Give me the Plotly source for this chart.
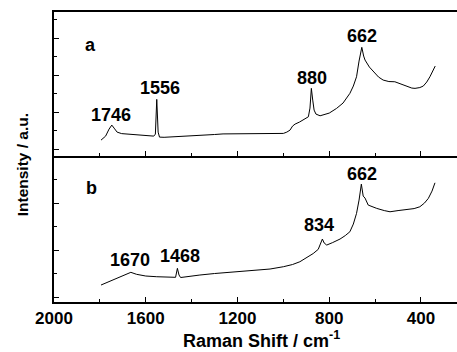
import plotly.graph_objects as go

# Panel a spectrum (Raman shift cm^-1, intensity a.u.)
wn_a = [1795, 1775, 1760, 1748, 1738, 1725, 1705, 1680, 1650, 1620, 1590, 1565,
        1558, 1552, 1546, 1540, 1520, 1480, 1440, 1407, 1350, 1300, 1263, 1200,
        1146, 1058, 1000, 985, 971, 960, 949, 930, 913, 891, 884, 878, 872, 866,
        858, 840, 800, 768, 740, 710, 695, 681, 670, 658, 650, 644, 625, 608,
        585, 565, 540, 514, 490, 463, 440, 426, 405, 390, 375, 361, 348, 338]
int_a = [16, 20, 27, 31, 28, 24, 22.5, 22, 21.5, 21, 20.5, 20,
         22, 56.7, 24, 19, 18.8, 19.2, 19.6, 20, 20.8, 21.6, 22.2, 22.3,
         22, 22, 22.7, 24, 26, 30, 32, 34, 36, 39.3, 48, 67.7, 56, 46,
         42, 40.3, 43, 47.7, 53, 62.7, 70, 79.3, 95, 108.7, 100, 96, 89, 84.3,
         79, 76, 74.5, 74.3, 72, 70, 68, 67.7, 68.5, 70, 74, 79.3, 85, 90]

# Panel b spectrum
wn_b = [1795, 1760, 1720, 1690, 1665, 1640, 1600, 1552, 1500, 1470, 1462, 1455,
        1448, 1420, 1364, 1300, 1262, 1200, 1146, 1058, 1000, 960, 928, 891,
        870, 848, 838, 830, 822, 811, 785, 753, 730, 710, 695, 681, 670, 660,
        652, 644, 630, 610, 593, 560, 535, 500, 463, 430, 405, 385, 368, 352, 339]
int_b = [17, 20.5, 24.5, 27.5, 29.7, 27.7, 26, 25.3, 24.7, 24.7, 33.7, 27,
         24.5, 25.5, 27, 28.5, 29.3, 30.5, 31, 33, 35.3, 37.5, 40.3, 45.3,
         48.5, 52.7, 58, 63, 59, 57, 59.5, 63, 66.5, 70.3, 78, 88.7, 102, 118,
         106, 104, 97, 95, 93.7, 91.5, 90.3, 91.5, 92.7, 93.5, 95.3, 99, 103.7, 111, 119.3]

# Peak labels
lab_a_text = ["1746", "1556", "880", "662"]
lab_a_x = [1753, 1537, 874, 656]
lab_a_y = [41, 68, 78, 120]
lab_b_text = ["1670", "1468", "834", "662"]
lab_b_x = [1669, 1451, 845, 659]
lab_b_y = [42, 46, 77, 128]

FONT = "Liberation Sans, Arial, sans-serif"
FS = 18

def f(size=FS):
    return dict(size=size, family=FONT, color="black", weight=700)

fig = go.Figure()
fig.add_trace(go.Scatter(x=wn_a, y=int_a, mode="lines", xaxis="x2", yaxis="y2",
                         line=dict(color="black", width=1), showlegend=False))
fig.add_trace(go.Scatter(x=wn_b, y=int_b, mode="lines", xaxis="x", yaxis="y",
                         line=dict(color="black", width=1), showlegend=False))

ann = []
for t, x, y in zip(lab_a_text, lab_a_x, lab_a_y):
    ann.append(dict(text=t, x=x, y=y, xref="x2", yref="y2", showarrow=False, font=f()))
for t, x, y in zip(lab_b_text, lab_b_x, lab_b_y):
    ann.append(dict(text=t, x=x, y=y, xref="x", yref="y", showarrow=False, font=f()))
ann.append(dict(text="a", x=1840, y=111, xref="x2", yref="y2", showarrow=False, font=f()))
ann.append(dict(text="b", x=1836, y=114, xref="x", yref="y", showarrow=False, font=f()))
ann.append(dict(text="Intensity / a.u.", x=-0.079, y=0.472, xref="paper", yref="paper",
                textangle=-90, showarrow=False, xanchor="center", yanchor="middle", font=f(15.5)))
ann.append(dict(text="Raman Shift / cm<sup>-1</sup>", x=0.516, y=-0.128, xref="paper", yref="paper",
                showarrow=False, xanchor="center", yanchor="middle", font=f()))

xcommon = dict(range=[2000, 243], tickmode="linear", tick0=400, dtick=400,
               ticks="inside", ticklen=5, tickwidth=1.2, tickcolor="black",
               minor=dict(dtick=200, tick0=400, ticks="inside", ticklen=3, tickcolor="black", tickwidth=1),
               showline=True, linecolor="black", linewidth=1.5, showgrid=False, zeroline=False)

fig.update_layout(
    width=457, height=352,
    margin=dict(l=54, r=0, t=12, b=50),
    paper_bgcolor="white", plot_bgcolor="white",
    font=dict(family=FONT, size=FS, color="black"),
    xaxis=dict(**xcommon, anchor="y", showticklabels=True, mirror=False,
               tickfont=f(17)),
    xaxis2=dict(**xcommon, anchor="y2", matches="x", showticklabels=False, mirror=True),
    yaxis=dict(domain=[0, 0.503], range=[0, 146], tickmode="linear", tick0=5, dtick=47,
               ticks="inside", ticklen=5, tickcolor="black", tickwidth=1,
               minor=dict(dtick=23.5, tick0=5, ticks="inside", ticklen=3, tickcolor="black"),
               showticklabels=False, showline=True, linecolor="black", linewidth=1.5,
               showgrid=False, zeroline=False),
    yaxis2=dict(domain=[0.503, 1], range=[0, 144], tickmode="linear", tick0=7, dtick=37,
                ticks="inside", ticklen=5, tickcolor="black", tickwidth=1,
                minor=dict(dtick=18.5, tick0=7, ticks="inside", ticklen=3, tickcolor="black"),
                showticklabels=False, showline=True, linecolor="black", linewidth=1.5,
                showgrid=False, zeroline=False),
    annotations=ann,
)

fig.write_html("out.html")
